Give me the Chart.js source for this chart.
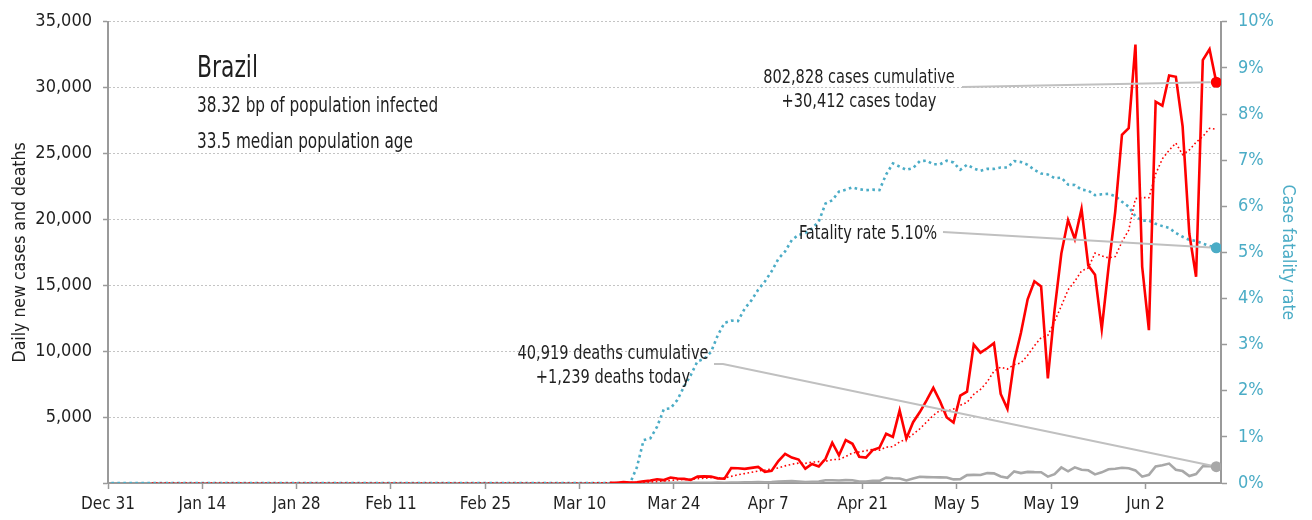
<!DOCTYPE html>
<html>
<head>
<meta charset="utf-8">
<title>Brazil</title>
<script src="https://cdn.jsdelivr.net/npm/chart.js@4.4.1/dist/chart.umd.min.js"></script>
<style>
    html, body { margin: 0; padding: 0; background: #fff; }
    #wrap { width: 1312px; height: 520px; position: relative; }
</style>
</head>
<body>
<div id="wrap"><canvas id="chart"></canvas></div>
<script>
// day 0 = Dec 31 2019, one value per day from each series' start day
const tickDays = [0, 14, 28, 42, 56, 70, 84, 98, 112, 126, 140, 154];
const tickLabels = ['Dec 31', 'Jan 14', 'Jan 28', 'Feb 11', 'Feb 25', 'Mar 10', 'Mar 24', 'Apr 7', 'Apr 21', 'May 5', 'May 19', 'Jun 2'];

const casesStartDay = 74;
const dailyCases = [
    21, 23, 79, 34, 57, 137, 193, 283, 224, 418, 345, 310, 232, 482, 502, 487, 352, 323,
    1138, 1119, 1074, 1146, 1222, 852, 926, 1661, 2210, 1930, 1781, 1089, 1442, 1261, 1832, 3058,
    2105, 3257, 2976, 1996, 1927, 2498, 2678, 3735, 3503, 5514, 3379, 4613, 5385, 6276,
    7218, 6209, 4970, 4588, 6633, 6935, 10503, 9888, 10222, 10611, 6760, 5632, 9258, 11385, 13944,
    15305, 14919, 7938, 13140, 17408, 19951, 18508, 20803, 16508, 15813, 11687, 16324, 20599, 26417,
    26928, 33274, 16409, 11598, 28936, 28633, 30925, 30830, 27075, 18912, 15654, 32091, 32913, 30412
];

const casesAvgStartDay = 6;
const casesAvg7 = [
    0, 0, 0, 0, 0, 0, 0, 0, 0, 0, 0, 0, 0, 0, 0, 0, 0, 0, 0, 0,
    0, 0, 0, 0, 0, 0, 0, 0, 0, 0, 0, 0, 0, 0, 0, 0, 0, 0, 0, 0,
    0, 0, 0, 0, 0, 0, 0, 0, 0, 0, 0, 0, 0, 0, 0, 0, 0, 0,
    0.3, 0.3, 1, 1.7, 2.6, 3.4,
    3.3, 4.6, 7, 9.9, 12.1, 14.6, 25, 29.9, 36.7, 53.7,
    77.7, 115, 144, 192, 237, 273, 286, 328, 359, 397,
    387, 384, 502, 629, 714, 806, 911, 982, 1068, 1143,
    1299, 1421, 1512, 1493, 1577, 1625, 1649, 1770, 1795, 2006,
    2276, 2355, 2450, 2545, 2491, 2724, 2759, 3122, 3319, 3703,
    4115, 4629, 5127, 5513, 5436, 5608, 5897, 6118, 6722, 7104,
    7677, 8483, 8793, 8650, 8982, 9108, 9687, 10414, 11029, 11197,
    12270, 13434, 14658, 15310, 16095, 16322, 17447, 17240, 17085, 17177,
    18307, 19182, 21577, 21663, 21650, 23452, 24599, 25243, 25801, 24915,
    25273, 25852, 26303, 26914, 26841
];

const deathsStartDay = 77;
const dailyDeaths = [
    0, 1, 3, 2, 5, 7, 7, 9, 12, 11, 20, 15, 19, 25, 23,
    42, 39, 59, 60, 72, 55, 67, 114, 133, 141, 115, 68, 99, 105, 204,
    204, 188, 217, 206, 115, 113, 166, 165, 407, 357, 346, 189, 338, 474, 449,
    435, 428, 421, 275, 296, 600, 615, 610, 751, 730, 496, 396, 881, 749, 844,
    824, 816, 485, 674, 1179, 888, 1188, 1001, 965, 653, 807, 1039, 1086, 1156,
    1124, 956, 480, 623, 1262, 1349, 1473, 1005, 904, 525, 679, 1272, 1274, 1239
];

const rateStartDay = 0;
const fatalityRate = [
    0, 0, 0, 0, 0, 0, 0, 0, 0, 0, 0, 0, 0, 0, 0, 0, 0, 0, 0, 0,
    0, 0, 0, 0, 0, 0, 0, 0, 0, 0, 0, 0, 0, 0, 0, 0, 0, 0, 0, 0,
    0, 0, 0, 0, 0, 0, 0, 0, 0, 0, 0, 0, 0, 0, 0, 0, 0, 0, 0, 0,
    0, 0, 0, 0, 0, 0, 0, 0, 0, 0, 0, 0, 0, 0, 0, 0, 0, 0,
    0.34, 0.93, 0.97, 1.22, 1.60, 1.62, 1.80, 2.09, 2.34, 2.64,
    2.69, 2.84, 3.20, 3.47, 3.52, 3.51, 3.78, 3.96, 4.19, 4.37,
    4.59, 4.86, 5.02, 5.27, 5.38, 5.42, 5.52, 5.67, 6.06, 6.13,
    6.32, 6.36, 6.41, 6.37, 6.35, 6.36, 6.35, 6.69, 6.93, 6.86,
    6.79, 6.83, 6.98, 6.99, 6.91, 6.91, 6.99, 6.95, 6.79, 6.90,
    6.82, 6.77, 6.81, 6.81, 6.84, 6.84, 6.98, 6.96, 6.90, 6.79,
    6.71, 6.69, 6.61, 6.62, 6.47, 6.46, 6.36, 6.34, 6.24, 6.26,
    6.27, 6.22, 6.10, 5.99, 5.78, 5.69, 5.69, 5.62, 5.57, 5.53,
    5.42, 5.34, 5.27, 5.25, 5.19, 5.14, 5.10
];

const countryName = 'Brazil';
const countryFacts = ['38.32 bp of population infected', '33.5 median population age'];
const casesNote = ['802,828 cases cumulative', '+30,412 cases today'];
const rateNote = ['Fatality rate 5.10%'];
const deathsNote = ['40,919 deaths cumulative', '+1,239 deaths today'];
const leftTitle = 'Daily new cases and deaths';
const rightTitle = 'Case fatality rate';

const FONT = "'Liberation Sans Narrow', 'Arial Narrow', 'DejaVu Sans Condensed', sans-serif";
const INK = '#1f1f1f';
const TEAL = '#4bacc6';
const RED = '#ff0000';
const GREY = '#a8a8a8';
const LEADER = '#c0c0c0';
const AXIS = '#9a9a9a';
const DOT = 5.5;
const NARROW = 0.81; // squeeze for the free text, no narrow face installed

Chart.defaults.font.family = FONT;
Chart.defaults.color = INK;

// values are daily, plotted at midday
function toPoints(startDay, values) {
    return values.map((v, i) => ({ x: startDay + i + 0.5, y: v }));
}

function lastDot(ctx) {
    return ctx.dataIndex === ctx.dataset.data.length - 1 ? DOT : 0;
}

function narrowText(ctx, text, x, y, size, align) {
    ctx.save();
    ctx.translate(x, y);
    ctx.scale(NARROW, 1);
    ctx.font = `${size}px ${FONT}`;
    ctx.textAlign = align;
    ctx.textBaseline = 'alphabetic';
    ctx.fillText(text, 0, 0);
    ctx.restore();
}

const callouts = [
    { lines: casesNote, x: 859, y: 83, align: 'center', from: [[962, 87]], dataset: 0 },
    { lines: rateNote, x: 937, y: 239, align: 'right', from: [[943, 232]], dataset: 2 },
    { lines: deathsNote, x: 613, y: 359, align: 'center', from: [[714, 364], [723, 364]], dataset: 3 }
];

const notesPlugin = {
    id: 'notes',
    afterDatasetsDraw(chart) {
        const ctx = chart.ctx;
        ctx.save();
        ctx.fillStyle = INK;
        narrowText(ctx, countryName, 197, 77, 30, 'left');
        narrowText(ctx, countryFacts[0], 197, 112, 21, 'left');
        narrowText(ctx, countryFacts[1], 197, 148, 21, 'left');

        callouts.forEach((c) => {
            c.lines.forEach((t, i) => narrowText(ctx, t, c.x, c.y + i * 24, 20, c.align));

            const meta = chart.getDatasetMeta(c.dataset);
            const dot = meta.data[meta.data.length - 1];
            const last = c.from[c.from.length - 1];
            const dx = dot.x - last[0];
            const dy = dot.y - last[1];
            const len = Math.hypot(dx, dy) || 1;
            const pts = c.from.concat([[dot.x - dx / len * DOT, dot.y - dy / len * DOT]]);

            ctx.strokeStyle = LEADER;
            ctx.lineWidth = 2;
            ctx.beginPath();
            pts.forEach((p, i) => (i ? ctx.lineTo(p[0], p[1]) : ctx.moveTo(p[0], p[1])));
            ctx.stroke();
        });
        ctx.restore();
    }
};

new Chart(document.getElementById('chart'), {
    type: 'line',
    data: {
        datasets: [
            {
                label: 'Daily new cases',
                data: toPoints(casesStartDay, dailyCases),
                yAxisID: 'y',
                borderColor: RED,
                backgroundColor: RED,
                borderWidth: 2.6,
                pointRadius: lastDot,
                pointBorderWidth: 0,
                order: 0
            },
            {
                label: '7-day average',
                data: toPoints(casesAvgStartDay, casesAvg7),
                yAxisID: 'y',
                borderColor: RED,
                borderWidth: 1.6,
                borderDash: [1.6, 2.6],
                pointRadius: 0,
                order: 1
            },
            {
                label: 'Case fatality rate',
                data: toPoints(rateStartDay, fatalityRate),
                yAxisID: 'yRate',
                borderColor: TEAL,
                backgroundColor: TEAL,
                borderWidth: 2.6,
                borderDash: [2.6, 3.4],
                pointRadius: lastDot,
                pointBorderWidth: 0,
                order: 2
            },
            {
                label: 'Daily deaths',
                data: toPoints(deathsStartDay, dailyDeaths),
                yAxisID: 'y',
                borderColor: GREY,
                backgroundColor: GREY,
                borderWidth: 2.6,
                pointRadius: lastDot,
                pointBorderWidth: 0,
                order: 3
            }
        ]
    },
    options: {
        responsive: true,
        maintainAspectRatio: false,
        animation: false,
        events: [],
        devicePixelRatio: 1,
        layout: { padding: { top: 19, right: 0, bottom: 0, left: 0 } },
        elements: { line: { tension: 0, fill: false } },
        plugins: {
            legend: { display: false },
            tooltip: { enabled: false }
        },
        scales: {
            x: {
                type: 'linear',
                min: 0,
                max: 165.2,
                afterBuildTicks: (scale) => {
                    scale.ticks = tickDays.map((value) => ({ value }));
                },
                afterFit: (scale) => {
                    scale.height = 37;
                },
                ticks: {
                    autoSkip: false,
                    maxRotation: 0,
                    padding: 5,
                    color: INK,
                    font: { size: 17 },
                    callback: (value) => tickLabels[tickDays.indexOf(value)]
                },
                grid: { drawOnChartArea: false, tickLength: 6, tickColor: AXIS, tickWidth: 1.5 },
                border: { color: AXIS, width: 2 }
            },
            y: {
                position: 'left',
                min: 0,
                max: 35000,
                afterFit: (scale) => {
                    scale.width = 108;
                },
                ticks: {
                    stepSize: 5000,
                    padding: 11,
                    color: INK,
                    font: { size: 18 },
                    callback: (value) => (value === 0 ? '' : value.toLocaleString('en-US'))
                },
                grid: { color: '#c4c4c4', lineWidth: 1, tickLength: 5, tickColor: AXIS, tickWidth: 1.5 },
                border: { color: AXIS, width: 2, dash: [2, 2] },
                title: {
                    display: true,
                    text: leftTitle,
                    color: INK,
                    font: { size: 17.5 },
                    padding: { top: 10, bottom: 0 }
                }
            },
            yRate: {
                position: 'right',
                min: 0,
                max: 10,
                afterFit: (scale) => {
                    scale.width = 91;
                },
                ticks: {
                    stepSize: 1,
                    padding: 11,
                    color: TEAL,
                    font: { size: 18 },
                    callback: (value) => value + '%'
                },
                grid: { drawOnChartArea: false, tickLength: 6, tickColor: AXIS, tickWidth: 1.5 },
                border: { color: AXIS, width: 2 },
                title: {
                    display: true,
                    text: rightTitle,
                    color: TEAL,
                    font: { size: 17.5 },
                    padding: { top: 14, bottom: 0 }
                }
            }
        }
    },
    plugins: [notesPlugin]
});
</script>
</body>
</html>
